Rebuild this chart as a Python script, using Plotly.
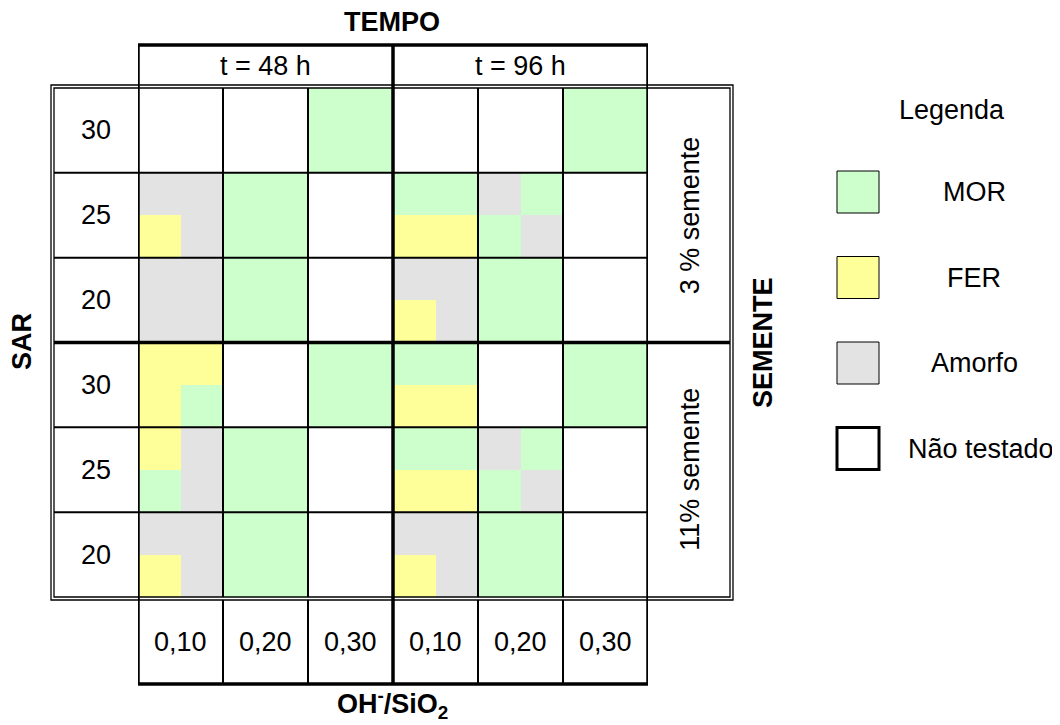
import plotly.graph_objects as go

# Labels
sar_labels = ["30", "25", "20", "30", "25", "20"]
oh_labels = ["0,10", "0,20", "0,30", "0,10", "0,20", "0,30"]
tempo_labels = ["t = 48 h", "t = 96 h"]
semente_labels = ["3 % semente", "11% semente"]

# Phases: N = Não testado, M = MOR, F = FER, A = Amorfo
phase_names = ["Não testado", "MOR", "FER", "Amorfo"]
phase_codes = ["N", "M", "F", "A"]
phase_colors = ["#FFFFFF", "#CCFFCC", "#FFFF99", "#E3E3E3"]
legend_order = ["MOR", "FER", "Amorfo", "Não testado"]

# each cell is split 2x2, so each SAR row = 2 sub-rows of 12 sub-cells
# (48h: 0,10 0,20 0,30 | 96h: 0,10 0,20 0,30)
semente_3 = [
    "NNNNMMNNNNMM",
    "NNNNMMNNNNMM",
    "AAMMNNMMAMNN",
    "FAMMNNFFMANN",
    "AAMMNNAAMMNN",
    "AAMMNNFAMMNN",
]
semente_11 = [
    "FFNNMMMMNNMM",
    "FMNNMMFFNNMM",
    "FAMMNNMMAMNN",
    "MAMMNNFFMANN",
    "AAMMNNAAMMNN",
    "FAMMNNFAMMNN",
]

z = [[phase_codes.index(c) for c in row] for row in semente_3 + semente_11]
n = len(phase_colors)
colorscale = []
for i, c in enumerate(phase_colors):
    colorscale += [[i / n, c], [(i + 1) / n, c]]

W, H = 1060, 725
OFF = 8  # page body margin
def X(p): return (p - OFF) / W
def Y(p): return 1 - (p - OFF) / H

FONT = "Arial, Liberation Sans, sans-serif"
FS = 27

fig = go.Figure(go.Heatmap(z=z, colorscale=colorscale, zmin=-0.5, zmax=n - 0.5,
                           showscale=False, hoverinfo="skip"))

shapes = []
thin, thick = 2, 3.5
ncol = len(z[0])
nrow = len(z)
# vertical lines
for k in range(0, ncol + 1, 2):
    xv = k - 0.5
    if k % 6 == 0:
        shapes.append(dict(type="line", xref="x", yref="paper", x0=xv, x1=xv,
                           y0=Y(45), y1=Y(684), line=dict(color="black", width=thick)))
    else:
        shapes.append(dict(type="line", xref="x", yref="y", x0=xv, x1=xv,
                           y0=-0.5, y1=nrow - 0.5, line=dict(color="black", width=thin)))
        shapes.append(dict(type="line", xref="x", yref="paper", x0=xv, x1=xv,
                           y0=Y(600), y1=Y(684), line=dict(color="black", width=thin)))
# horizontal lines
for k in range(2, nrow, 2):
    yv = k - 0.5
    if k == 6:
        shapes.append(dict(type="line", xref="paper", yref="y", x0=X(54), x1=X(730),
                           y0=yv, y1=yv, line=dict(color="black", width=thick)))
    else:
        shapes.append(dict(type="line", xref="paper", yref="y", x0=X(54), x1=X(648),
                           y0=yv, y1=yv, line=dict(color="black", width=thin)))
# header top / bottom box bottom
for yy in (45, 684):
    shapes.append(dict(type="line", xref="x", yref="paper", x0=-0.5 - 0.05, x1=ncol - 0.5 + 0.05,
                       y0=Y(yy), y1=Y(yy), line=dict(color="black", width=thick)))
# double border
for off in (0, 3):
    shapes.append(dict(type="rect", xref="paper", yref="paper",
                       x0=X(51 + off), x1=X(733 - off), y0=Y(85 + off), y1=Y(600 - off),
                       line=dict(color="black", width=1.3)))

# legend swatches
for i, name in enumerate(legend_order):
    c = phase_colors[phase_names.index(name)]
    y0 = 171 + i * 85.5
    shapes.append(dict(type="rect", xref="paper", yref="paper", x0=X(837), x1=X(879),
                       y0=Y(y0), y1=Y(y0 + 42), fillcolor=c,
                       line=dict(color="black", width=3 if name == "Não testado" else 1)))

ann = []
def txt(text, x, y, xref="paper", yref="paper", bold=False, angle=0):
    ann.append(dict(text=f"<b>{text}</b>" if bold else text, x=x, y=y, xref=xref, yref=yref,
                    showarrow=False, textangle=angle, xanchor="center", yanchor="middle",
                    font=dict(family=FONT, size=FS, color="black")))

for i, s in enumerate(sar_labels):
    txt(s, X(96), 2 * i + 0.5, yref="y")
for i, s in enumerate(oh_labels):
    txt(s, 2 * i + 0.5, Y(642), xref="x")
for i, s in enumerate(tempo_labels):
    txt(s, 6 * i + 2.5, Y(66), xref="x")
for i, s in enumerate(semente_labels):
    txt(s, X(690), 6 * i + 2.5, yref="y", angle=-90)
txt("TEMPO", X(392), Y(22), bold=True)
txt("OH<sup>-</sup>/SiO<sub>2</sub>", X(392), Y(704), bold=True)
txt("SAR", X(22), Y(342), bold=True, angle=-90)
txt("SEMENTE", X(763), Y(343), bold=True, angle=-90)
txt("Legenda", X(952), Y(110))
for i, name in enumerate(legend_order):
    txt(name, X(981 if name == "Não testado" else 974), Y(192 + i * 85.5))

fig.update_layout(
    width=W, height=H, margin=dict(l=0, r=0, t=0, b=0),
    paper_bgcolor="white", plot_bgcolor="white",
    xaxis=dict(domain=[X(138), X(648)], range=[-0.5, ncol - 0.5], visible=False, fixedrange=True),
    yaxis=dict(domain=[Y(597), Y(88)], range=[nrow - 0.5, -0.5], visible=False, fixedrange=True),
    shapes=shapes, annotations=ann, showlegend=False,
)
fig.write_html("out.html", config={"displayModeBar": False})
